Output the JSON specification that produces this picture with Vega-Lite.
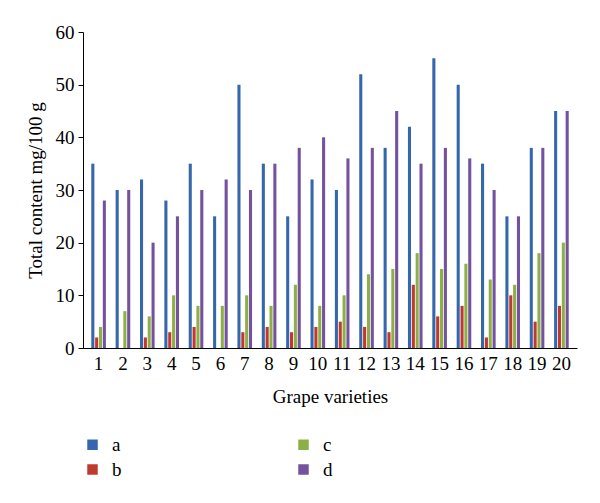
{
  "$schema": "https://vega.github.io/schema/vega-lite/v6.json",
  "autosize": "none",
  "width": 494,
  "height": 316,
  "padding": {"left": 83, "top": 32, "right": 23, "bottom": 155},
  "background": "white",
  "config": {
    "font": "Liberation Serif",
    "view": {"stroke": null},
    "axis": {"grid": false, "domainColor": "black", "tickColor": "black", "labelColor": "black", "titleColor": "black", "labelFont": "Liberation Serif", "titleFont": "Liberation Serif", "titleFontWeight": "normal"}
  },
  "data": {"values": [
    {"v":"1","s":"a","y":35},{"v":"1","s":"b","y":2},{"v":"1","s":"c","y":4},{"v":"1","s":"d","y":28},
    {"v":"2","s":"a","y":30},{"v":"2","s":"b","y":0},{"v":"2","s":"c","y":7},{"v":"2","s":"d","y":30},
    {"v":"3","s":"a","y":32},{"v":"3","s":"b","y":2},{"v":"3","s":"c","y":6},{"v":"3","s":"d","y":20},
    {"v":"4","s":"a","y":28},{"v":"4","s":"b","y":3},{"v":"4","s":"c","y":10},{"v":"4","s":"d","y":25},
    {"v":"5","s":"a","y":35},{"v":"5","s":"b","y":4},{"v":"5","s":"c","y":8},{"v":"5","s":"d","y":30},
    {"v":"6","s":"a","y":25},{"v":"6","s":"b","y":0},{"v":"6","s":"c","y":8},{"v":"6","s":"d","y":32},
    {"v":"7","s":"a","y":50},{"v":"7","s":"b","y":3},{"v":"7","s":"c","y":10},{"v":"7","s":"d","y":30},
    {"v":"8","s":"a","y":35},{"v":"8","s":"b","y":4},{"v":"8","s":"c","y":8},{"v":"8","s":"d","y":35},
    {"v":"9","s":"a","y":25},{"v":"9","s":"b","y":3},{"v":"9","s":"c","y":12},{"v":"9","s":"d","y":38},
    {"v":"10","s":"a","y":32},{"v":"10","s":"b","y":4},{"v":"10","s":"c","y":8},{"v":"10","s":"d","y":40},
    {"v":"11","s":"a","y":30},{"v":"11","s":"b","y":5},{"v":"11","s":"c","y":10},{"v":"11","s":"d","y":36},
    {"v":"12","s":"a","y":52},{"v":"12","s":"b","y":4},{"v":"12","s":"c","y":14},{"v":"12","s":"d","y":38},
    {"v":"13","s":"a","y":38},{"v":"13","s":"b","y":3},{"v":"13","s":"c","y":15},{"v":"13","s":"d","y":45},
    {"v":"14","s":"a","y":42},{"v":"14","s":"b","y":12},{"v":"14","s":"c","y":18},{"v":"14","s":"d","y":35},
    {"v":"15","s":"a","y":55},{"v":"15","s":"b","y":6},{"v":"15","s":"c","y":15},{"v":"15","s":"d","y":38},
    {"v":"16","s":"a","y":50},{"v":"16","s":"b","y":8},{"v":"16","s":"c","y":16},{"v":"16","s":"d","y":36},
    {"v":"17","s":"a","y":35},{"v":"17","s":"b","y":2},{"v":"17","s":"c","y":13},{"v":"17","s":"d","y":30},
    {"v":"18","s":"a","y":25},{"v":"18","s":"b","y":10},{"v":"18","s":"c","y":12},{"v":"18","s":"d","y":25},
    {"v":"19","s":"a","y":38},{"v":"19","s":"b","y":5},{"v":"19","s":"c","y":18},{"v":"19","s":"d","y":38},
    {"v":"20","s":"a","y":45},{"v":"20","s":"b","y":8},{"v":"20","s":"c","y":20},{"v":"20","s":"d","y":45}
  ]},
  "mark": {"type": "bar"},
  "encoding": {
    "x": {
      "field": "v", "type": "ordinal", "sort": null,
      "scale": {"paddingInner": 0.4, "paddingOuter": 0.34},
      "axis": {"title": "Grape varieties", "labelAngle": 0, "ticks": false, "labelFontSize": 19, "labelPadding": 6, "titleFontSize": 19, "titlePadding": 14}
    },
    "xOffset": {"field": "s", "type": "nominal", "sort": ["a","b","c","d"], "scale": {"paddingInner": 0.2}},
    "y": {
      "field": "y", "type": "quantitative",
      "scale": {"domain": [0, 60], "nice": false},
      "axis": {"title": "Total content mg/100 g", "values": [0,10,20,30,40,50,60], "tickSize": 5, "labelFontSize": 19, "labelPadding": 4, "titleFontSize": 19, "titlePadding": 10}
    },
    "color": {
      "field": "s", "type": "nominal",
      "scale": {"domain": ["a","b","c","d"], "range": ["#3567ad","#c0392f","#8db046","#7452a0"]},
      "legend": {
        "title": null, "orient": "none", "legendX": 0, "legendY": 403, "columns": 2,
        "values": ["a","b","c","d"],
        "symbolType": "square", "symbolSize": 110, "symbolStrokeWidth": 0, "symbolOpacity": 1,
        "labelFontSize": 19, "labelFont": "Liberation Serif", "labelColor": "black", "labelOffset": 10,
        "columnPadding": 172, "rowPadding": 5
      }
    }
  }
}
